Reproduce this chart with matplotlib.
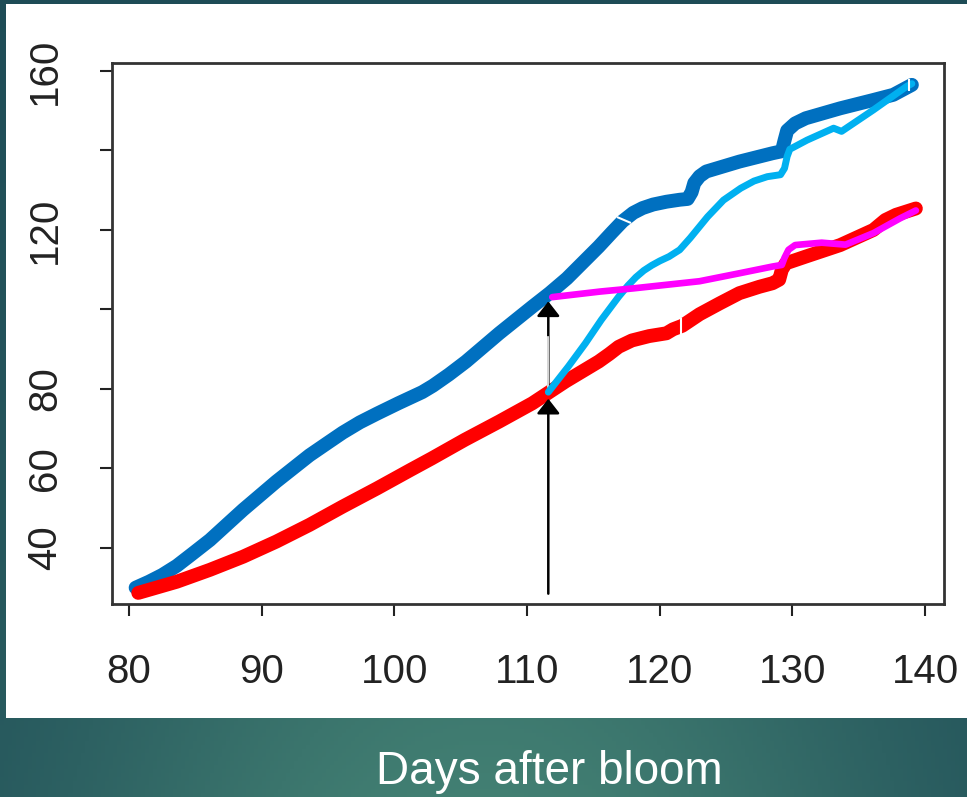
import numpy as np
import matplotlib
matplotlib.use("Agg")
import matplotlib.pyplot as plt
from matplotlib.patches import Rectangle
from matplotlib.markers import MarkerStyle
from matplotlib.transforms import Affine2D

# thick dark blue curve
blue_x = [80.5, 81.5, 82.5, 83.6, 84.8, 86.1, 88.6, 91.1, 93.6, 95.0, 96.1, 97.4, 98.7,
          100.3, 101.2, 102.1, 102.9, 104.1, 105.4, 107.9, 110.4, 111.7, 113.0, 115.4,
          116.4, 117.2, 118.0, 118.7, 119.5, 120.5, 121.5, 122.1, 122.4, 122.6, 123.0,
          123.5, 126.0, 128.5, 129.2, 129.4, 129.6, 130.2, 131.0, 133.6, 136.1, 137.6,
          139.0]
blue_y = [30.0, 31.5, 33.2, 35.5, 38.6, 42.0, 49.6, 56.7, 63.3, 66.5, 69.0, 71.6, 73.8,
          76.4, 77.8, 79.2, 80.8, 83.6, 86.9, 94.0, 100.7, 104.1, 107.8, 115.8,
          119.4, 122.2, 124.3, 125.5, 126.4, 127.1, 127.6, 127.8, 129.5, 131.8, 133.5,
          134.7, 137.2, 139.3, 139.8, 142.5, 145.0, 146.8, 148.1, 150.6, 152.7, 154.0,
          156.5]

# thick red curve
red_x = [80.7, 83.6, 86.1, 88.6, 91.1, 93.6, 96.1, 98.7, 101.2, 102.8, 105.3, 107.9,
         110.4, 112.9, 115.4, 116.2, 116.9, 117.9, 119.2, 120.5, 121.0, 121.7, 123.0,
         124.5, 126.0, 127.5, 128.5, 129.0, 129.2, 129.5, 131.0, 133.6, 136.1, 137.0,
         137.8, 139.3]
red_y = [28.7, 31.5, 34.5, 37.8, 41.6, 45.8, 50.4, 55.0, 59.6, 62.5, 67.2, 71.8,
         76.4, 81.9, 86.9, 88.8, 90.6, 92.2, 93.3, 94.0, 95.0, 95.9, 98.8,
         101.5, 104.1, 105.7, 106.6, 107.5, 110.0, 111.6, 113.3, 116.2, 120.0, 122.5,
         123.8, 125.4]

# light blue curve (starts at the lower arrow)
cyan_x = [111.6, 113.1, 114.4, 115.6, 116.9, 117.6, 118.2, 118.8, 119.4, 120.0, 120.7,
          121.5, 122.3, 123.6, 124.8, 126.1, 127.1, 128.1, 129.1, 129.4, 129.6, 129.8,
          131.1, 133.1, 133.7, 136.1, 138.6, 139.0]
cyan_y = [79.2, 85.6, 91.5, 97.4, 103.2, 106.0, 108.1, 109.8, 111.1, 112.2, 113.3,
          115.0, 118.0, 123.3, 127.5, 130.5, 132.3, 133.4, 133.9, 135.5, 138.5, 140.3,
          142.6, 145.6, 144.8, 150.2, 156.1, 156.8]

# magenta curve (starts at the upper arrow)
mag_x = [111.9, 115.5, 118.0, 120.5, 123.0, 126.0, 128.5, 129.2, 129.4, 129.7, 130.2,
         132.2, 134.0, 136.1, 138.1, 139.3]
mag_y = [103.1, 104.5, 105.3, 106.2, 107.1, 109.1, 110.8, 111.2, 113.0, 115.0, 116.2,
         116.8, 116.3, 119.2, 122.9, 124.9]

arrow_day = 111.6
x_ticks = [80, 90, 100, 110, 120, 130, 140]
y_ticks = [40, 60, 80, 100, 120, 140, 160]
y_labels = ["40", "60", "80", "", "120", "", "160"]

W, H = 967, 797
fig = plt.figure(figsize=(W / 100, H / 100), dpi=100)

# teal slide background
bg = fig.add_axes([0, 0, 1, 1], zorder=0)
yy, xx = np.mgrid[0:1:200j, 0:1:240j]
t = yy * np.exp(-((xx - 0.5) / 0.45) ** 2)
dark = np.array([0.12, 0.30, 0.34])
light = np.array([0.26, 0.50, 0.45])
img = dark + (light - dark) * t[..., None]
bg.imshow(img, aspect="auto", extent=[0, 1, 0, 1], origin="upper")
bg.axis("off")

fig.add_artist(Rectangle((6 / W, 1 - 718 / H), (W - 6) / W, (718 - 4) / H,
                         transform=fig.transFigure, facecolor="white",
                         edgecolor="none", zorder=1))

ax = fig.add_axes([112 / W, 1 - 604 / H, (944 - 112) / W, (604 - 63) / H], zorder=2)
ax.set_facecolor("white")

kw = dict(solid_capstyle="round", solid_joinstyle="round")
ax.plot(blue_x, blue_y, color="#0070C0", lw=10, zorder=2, **kw)
ax.plot(red_x, red_y, color="#FF0000", lw=10, zorder=3, **kw)

# arrows
red_at = np.interp(arrow_day, red_x, red_y)
blue_at = np.interp(arrow_day, blue_x, blue_y)
aprops = dict(arrowstyle="-|>,head_length=9,head_width=7", color="black", lw=1.8,
              mutation_scale=1, shrinkA=0, shrinkB=0)
ax.annotate("", xy=(arrow_day, red_at - 1.5), xytext=(arrow_day, 28.5),
            arrowprops=aprops, zorder=4)
ax.annotate("", xy=(arrow_day, blue_at - 1.8), xytext=(arrow_day, red_at + 1),
            arrowprops=aprops, zorder=4)
ax.plot([arrow_day, arrow_day], [red_at + 1.5, red_at + 14], color="white", lw=1.2, zorder=4.5)

ax.plot(cyan_x, cyan_y, color="#00B0F0", lw=5, zorder=5, **kw)
ax.plot(mag_x, mag_y, color="#FF00FF", lw=4.8, zorder=6, **kw)

# small white cuts across the lines
cut = MarkerStyle("|", transform=Affine2D().rotate_deg(69))
ax.plot([117.3], [np.interp(117.3, blue_x, blue_y)], marker=cut, ms=11, mew=1.5,
        color="white", ls="none", zorder=4)
ax.plot([121.6], [np.interp(121.6, red_x, red_y)], marker="|", ms=11, mew=1.5,
        color="white", ls="none", zorder=4)
ax.plot([138.8], [np.interp(138.8, cyan_x, cyan_y)], marker="|", ms=8, mew=1.5,
        color="white", ls="none", zorder=7)

ax.set_xlim(78.72, 141.42)
ax.set_ylim(25.9, 162.0)
ax.set_xticks(x_ticks)
ax.set_yticks(y_ticks)
ax.set_yticklabels(y_labels)

for s in ax.spines.values():
    s.set_linewidth(2)
    s.set_color("#333333")
ax.tick_params(length=8.5, width=1.5, color="#222222", labelsize=29,
               labelcolor="#222222", labelfontfamily="Liberation Sans")
ax.tick_params(axis="x", pad=27)
ax.tick_params(axis="y", pad=26, labelrotation=90)
for lab in ax.get_yticklabels():
    lab.set_va("center")

fig.text(549 / W, 1 - 784 / H, "Days after bloom", ha="center", va="baseline",
         color="white", fontsize=33, family="Liberation Sans")

fig.savefig("out.png", dpi=100)
